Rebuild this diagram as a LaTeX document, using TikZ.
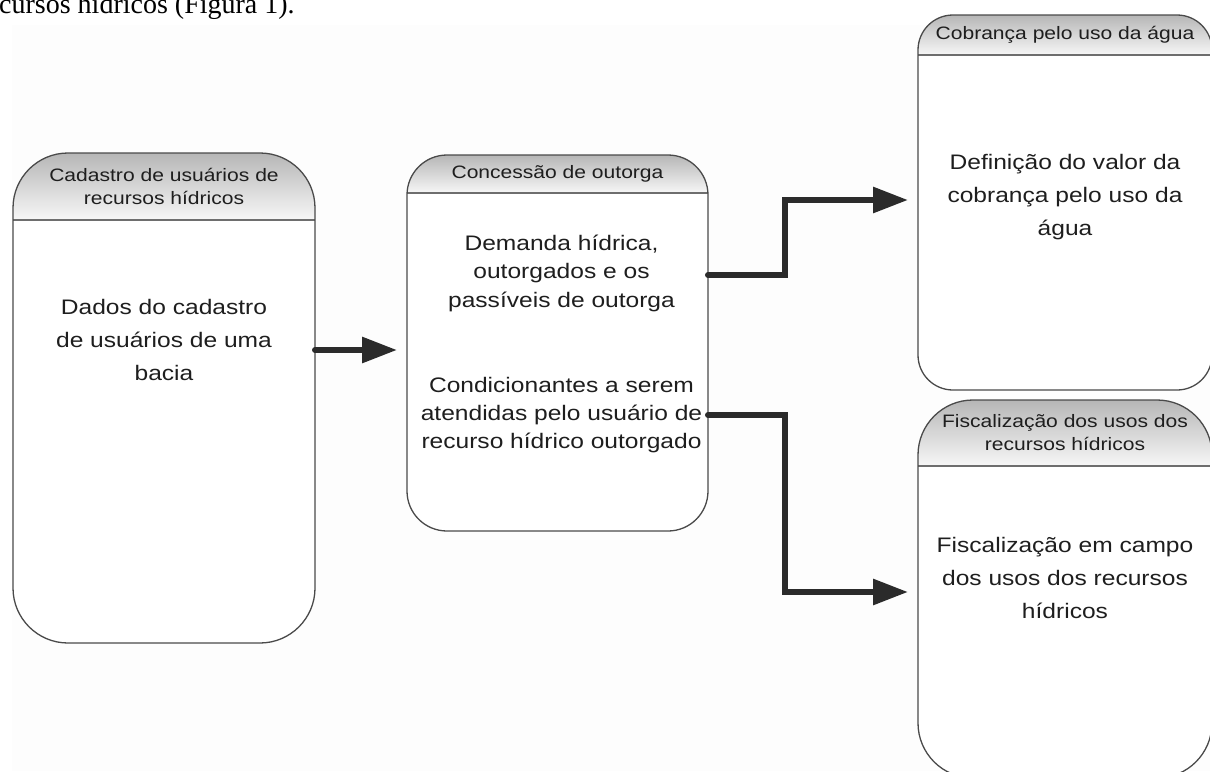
\documentclass[tikz,border=0pt]{standalone}
\usepackage{fontspec}
\setmainfont{Liberation Serif}
\newfontfamily\diagfont[FakeStretch=1.17]{Liberation Sans}
\usetikzlibrary{arrows.meta, positioning, backgrounds}
\definecolor{lane-line}{HTML}{4A4A4A}
\definecolor{lane-head}{HTML}{B6B6B6}
\definecolor{lane-foot}{HTML}{F7F7F7}
\definecolor{lane-sep}{HTML}{6E6E6E}
\definecolor{flow-dark}{HTML}{2B2B2B}
\definecolor{txt-dark}{HTML}{1E1E1E}
\definecolor{page-tint}{HTML}{FDFDFD}

\begin{document}
\begin{tikzpicture}[x=1pt, y=-1pt,
			lane/.style n args={3}{
				draw=lane-line, line width=1.3pt, outer sep=0pt,
				anchor=north west, inner sep=0pt,
				minimum width=#1, minimum height=#2, rounded corners=#3
			},
			headtxt/.style={font=\diagfont\fontsize{18}{23}\selectfont, text=txt-dark, align=center},
			bodytxt/.style={font=\diagfont\fontsize{21}{33}\selectfont, text=txt-dark, align=center},
			flow/.style={draw=flow-dark, line width=6pt, line cap=round,
				-{Triangle[length=35pt,width=25pt]}, shorten >=10pt}
			]
			\useasboundingbox (0,0) rectangle (1210,771);
			\clip (0,0) rectangle (1210,771);
			\node[font=\fontsize{28}{30}\selectfont, anchor=base west, inner sep=0pt] (caption) at (-1,13) {cursos hídricos (Figura 1).};

			\node[lane={302pt}{490pt}{55pt}] (cad) at (13,153) {};
			\node[lane={301pt}{376pt}{40pt}] (conc) at (407,155) {};
			\node[lane={294pt}{375pt}{35pt}] (cobr) at (918,15) {};
			\node[lane={294pt}{378pt}{55pt}] (fisc) at (918,400) {};

			\begin{pgfonlayer}{background}
				\fill[page-tint] (12,25) rectangle (1210,771);
				\foreach \n/\hh/\r in {cad/67/55, conc/38/40, cobr/40/35, fisc/66/55} {
					\begin{scope}
						\clip[rounded corners=\r pt] (\n.north west) rectangle (\n.south east);
						\fill[white] (\n.north west) rectangle (\n.south east);
						\shade[top color=lane-head, bottom color=lane-foot]
							(\n.north west) rectangle ([yshift=-\hh pt]\n.north east);
					\end{scope}
					\draw[lane-sep, line width=1.6pt]
						([yshift=-\hh pt]\n.north west) -- ([yshift=-\hh pt]\n.north east);
				}
			\end{pgfonlayer}

			\node[headtxt] (cad-h) at ([yshift=-33.5pt]cad.north) {Cadastro de usuários de\\recursos hídricos};
			\node[bodytxt] (cad-b) at ([yshift=-187pt]cad.north) {Dados do cadastro\\de usuários de uma\\bacia};
			\node[headtxt] (conc-h) at ([yshift=-19pt]conc.north) {Concessão de outorga};
			\node[bodytxt, font=\diagfont\fontsize{21}{28.5}\selectfont] (conc-b1) at ([xshift=4pt, yshift=-118pt]conc.north) {Demanda hídrica,\\outorgados e os\\passíveis de outorga};
			\node[bodytxt, font=\diagfont\fontsize{21}{28}\selectfont] (conc-b2) at ([xshift=4pt, yshift=-260pt]conc.north) {Condicionantes a serem\\atendidas pelo usuário de\\recurso hídrico outorgado};
			\node[headtxt] (cobr-h) at ([yshift=-20pt]cobr.north) {Cobrança pelo uso da água};
			\node[bodytxt] (cobr-b) at ([yshift=-182pt]cobr.north) {Definição do valor da\\cobrança pelo uso da\\água};
			\node[headtxt] (fisc-h) at ([yshift=-33pt]fisc.north) {Fiscalização dos usos dos\\recursos hídricos};
			\node[bodytxt] (fisc-b) at ([yshift=-178pt]fisc.north) {Fiscalização em campo\\dos usos dos recursos\\hídricos};

			\coordinate (out1) at ([yshift=-197pt]cad.north east);
			\coordinate (out2) at ([yshift=-120pt]conc.north east);
			\coordinate (out3) at ([yshift=-260pt]conc.north east);
			\draw[flow] (out1) -- (out1 -| conc.west);
			\draw[flow] (out2) -- ++(77,0) |- ([yshift=-185pt]cobr.north west);
			\draw[flow] (out3) -- ++(77,0) |- ([yshift=-192pt]fisc.north west);
		\end{tikzpicture}
\end{document}
